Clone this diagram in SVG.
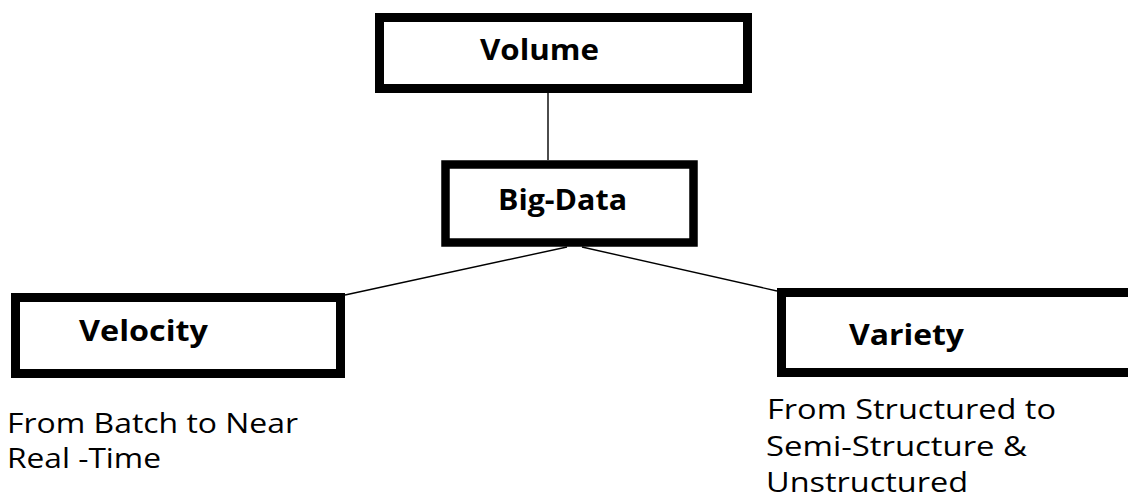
<svg xmlns="http://www.w3.org/2000/svg" width="1128" height="498" viewBox="0 0 1128 498">
<style>
.box{fill:#fff;stroke:#000;stroke-width:9}
.lbl{font-family:"Open Sans","Noto Sans",sans-serif;font-weight:bold;font-size:28px;fill:#000}
.txt{font-family:"Open Sans","Noto Sans",sans-serif;font-size:28px;fill:#000}
.conn{stroke:#000;stroke-width:1.4;fill:none}
</style>
<rect width="1128" height="498" fill="#fff"/>
<g id="connectors">
<line class="conn" x1="548" y1="93" x2="548" y2="160"/>
<line class="conn" x1="567" y1="247" x2="345" y2="295"/>
<line class="conn" x1="582" y1="247" x2="777" y2="291"/>
</g>
<g id="volume">
<rect class="box" x="379.5" y="17.5" width="368" height="71"/>
<text class="lbl" x="480" y="60" textLength="119" lengthAdjust="spacingAndGlyphs">Volume</text>
</g>
<g id="bigdata">
<rect class="box" x="445.5" y="164.5" width="248" height="78" style="stroke-width:8.5"/>
<text class="lbl" x="498" y="210" textLength="129" lengthAdjust="spacingAndGlyphs">Big-Data</text>
</g>
<g id="velocity">
<rect class="box" x="15.5" y="297.5" width="325" height="76"/>
<text class="lbl" x="79" y="341" textLength="129" lengthAdjust="spacingAndGlyphs">Velocity</text>
<text class="txt" x="7" y="433" textLength="291" lengthAdjust="spacingAndGlyphs">From Batch to Near</text>
<text class="txt" x="7" y="468" textLength="154" lengthAdjust="spacingAndGlyphs">Real -Time</text>
</g>
<g id="variety">
<rect class="box" x="781.5" y="292.5" width="400" height="80"/>
<text class="lbl" x="849" y="345" textLength="115" lengthAdjust="spacingAndGlyphs">Variety</text>
<text class="txt" x="767" y="419" textLength="289" lengthAdjust="spacingAndGlyphs">From Structured to</text>
<text class="txt" x="766" y="456" textLength="261" lengthAdjust="spacingAndGlyphs">Semi-Structure &amp;</text>
<text class="txt" x="766" y="492" textLength="202" lengthAdjust="spacingAndGlyphs">Unstructured</text>
</g>
</svg>
